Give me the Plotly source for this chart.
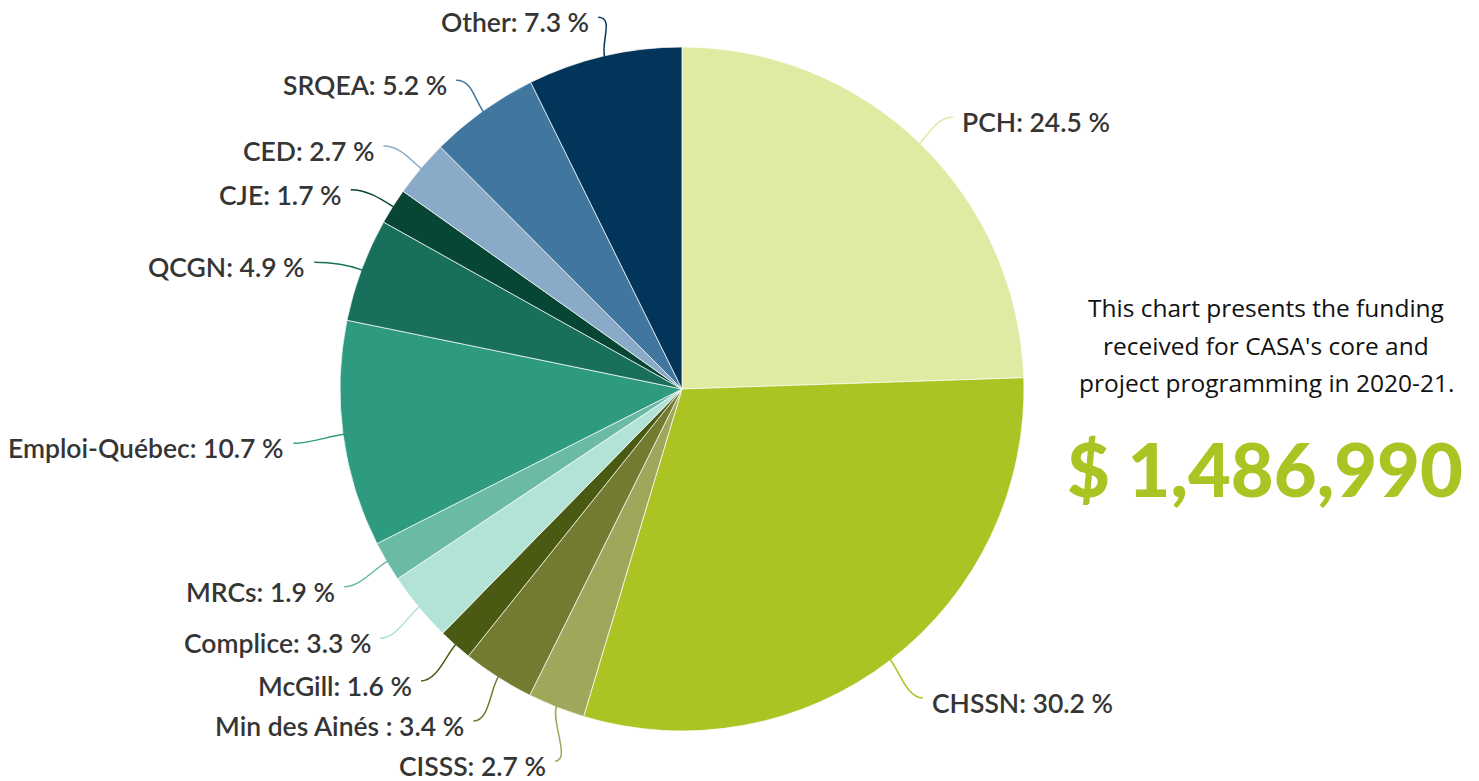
import math
import plotly.graph_objects as go

# ---- data ----
names = ["PCH", "CHSSN", "CISSS", "Min des Ainés ", "McGill", "Complice", "MRCs",
         "Emploi-Québec", "QCGN", "CJE", "CED", "SRQEA", "Other"]
values = [24.5, 30.2, 2.7, 3.4, 1.6, 3.3, 1.9, 10.7, 4.9, 1.7, 2.7, 5.2, 7.3]
colors = ["#E0EAA3", "#ABC423", "#9EA75A", "#737B30", "#4A5A12", "#B3E3D7", "#6ABAA6",
          "#2E9A80", "#18705C", "#074634", "#89ABC8", "#41779F", "#03355A"]
desc_lines = ["This chart presents the funding",
              "received for CASA's core and",
              "project programming in 2020-21."]
total_text = "$ 1,486,990"

# ---- layout constants (pixels) ----
W, H = 1479, 781
cx, cy, R = 682, 389, 342
R_LAB = 400                      # radius of the label circle (text edge)
R_UP, OFF_UP = 392, 15           # label y placement, upper half
R_LO, OFF_LO = 386, 8            # label y placement, lower half
MIN_GAP = 40
GAP_TXT = 7                      # connector end to text
LABEL_FONT = dict(family="Lato, sans-serif", size=26.5, color="#353535", weight=600)


def px(x):
    return x / W


def py(y):
    return 1 - y / H


fig = go.Figure(go.Pie(
    values=values, labels=[n.strip() for n in names], sort=False,
    direction="clockwise", rotation=0,
    marker=dict(colors=colors, line=dict(color="rgba(255,255,255,0.7)", width=1)),
    textinfo="none", hoverinfo="label+percent", showlegend=False,
    domain=dict(x=[px(cx - R), px(cx + R)], y=[py(cy + R), py(cy - R)]),
))

total = sum(values)
annotations = []
shapes = []
cum = 0.0
items = []
for n, v, c in zip(names, values, colors):
    mid = (cum + v / 2) / total * 2 * math.pi
    cum += v
    s, co = math.sin(mid), math.cos(mid)
    side = 1 if s >= 0 else -1
    upper = co > 0
    if upper:
        ly = cy - R_UP * co + OFF_UP
    else:
        ly = cy - R_LO * co + OFF_LO
    items.append(dict(n=n, v=v, c=c, s=s, co=co, side=side, upper=upper, ly=ly))

# collision avoidance per side, then keep inside the page
for side in (1, -1):
    grp = sorted([it for it in items if it["side"] == side], key=lambda d: d["ly"])
    for a, b in zip(grp, grp[1:]):
        if b["ly"] - a["ly"] < MIN_GAP:
            b["ly"] = a["ly"] + MIN_GAP
for it in items:
    it["ly"] = min(max(it["ly"], 22), 767)
    if it["upper"]:
        it["tx"] = cx + R_LAB * it["s"]
    else:
        dy = max(min(it["ly"] - cy, R_LAB), -R_LAB)
        it["tx"] = cx + it["side"] * math.sqrt(R_LAB ** 2 - dy ** 2)

for it in items:
    side, s, co = it["side"], it["s"], it["co"]
    x0, y0 = cx + (R - 1) * s, cy - (R - 1) * co
    x3, y3 = it["tx"] - side * GAP_TXT, it["ly"] - 5   # connector end
    x1, y1 = x0 + s * 16, y0 - co * 16                 # leave the slice radially
    x2, y2 = x3 - side * 16, y3                        # arrive horizontally
    path = f"M {px(x0)},{py(y0)} C {px(x1)},{py(y1)} {px(x2)},{py(y2)} {px(x3)},{py(y3)}"
    shapes.append(dict(type="path", path=path, xref="paper", yref="paper",
                       line=dict(color=it["c"], width=1.5)))
    annotations.append(dict(
        x=px(it["tx"]), y=py(it["ly"]), xref="paper", yref="paper",
        text=f"{it['n']}: {it['v']} %", showarrow=False,
        xanchor="left" if side > 0 else "right", yanchor="middle",
        font=LABEL_FONT))

# right-hand description
for i, line in enumerate(desc_lines):
    annotations.append(dict(
        x=px(1266), y=py(308 + i * 37.5), xref="paper", yref="paper",
        text=line, showarrow=False, xanchor="center", yanchor="middle",
        font=dict(family="Open Sans, sans-serif", size=24.5, color="#111111")))
annotations.append(dict(
    x=px(1265), y=py(468), xref="paper", yref="paper",
    text=total_text, showarrow=False, xanchor="center", yanchor="middle",
    font=dict(family="Lato, sans-serif", size=74, color="#ABC423", weight=900)))

fig.update_layout(
    width=W, height=H, margin=dict(l=0, r=0, t=0, b=0),
    paper_bgcolor="white", plot_bgcolor="white", showlegend=False,
    annotations=annotations, shapes=shapes,
)
fig.write_html("out.html", config={"displayModeBar": False},
               post_script="document.body.style.margin='0';")
